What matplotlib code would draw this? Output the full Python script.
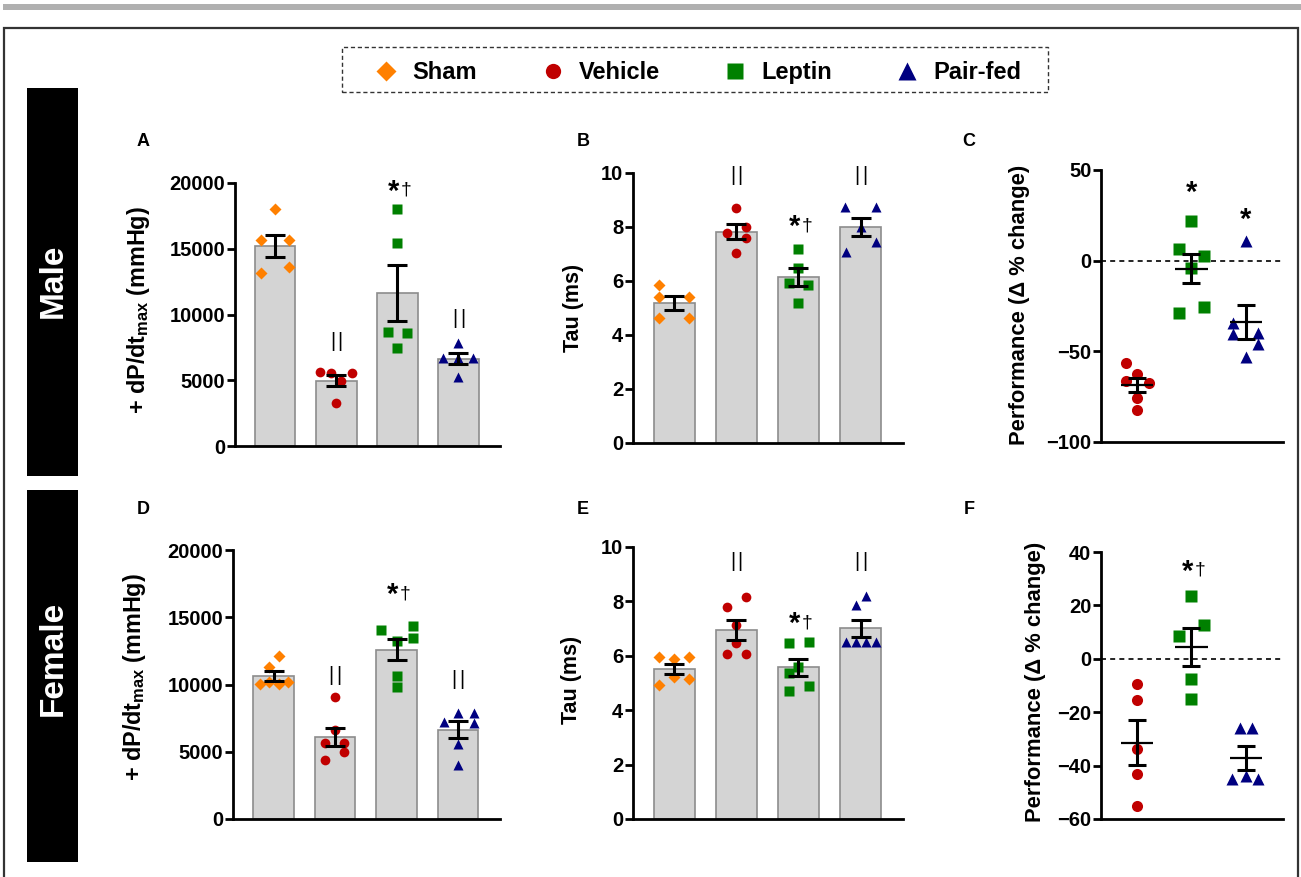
import numpy as np
import matplotlib
matplotlib.use("Agg")
import matplotlib.pyplot as plt
from matplotlib.patches import Rectangle
from matplotlib.lines import Line2D

plt.rcParams['font.family'] = ['Liberation Sans', 'DejaVu Sans']
plt.rcParams['font.weight'] = 'bold'
plt.rcParams['mathtext.fontset'] = 'custom'
plt.rcParams['mathtext.bf'] = 'Liberation Sans:bold'
plt.rcParams['mathtext.rm'] = 'Liberation Sans:bold'

# ---------------- data ----------------
groups = ['Sham', 'Vehicle', 'Leptin', 'Pair-fed']

# Male +dP/dtmax (mmHg)
male_dpdt_sham = [18000, 15650, 15650, 13150, 13650]
male_dpdt_vehicle = [5600, 5550, 5550, 4950, 3250]
male_dpdt_leptin = [18050, 15450, 8650, 8600, 7450]
male_dpdt_pairfed = [7850, 6700, 6700, 6700, 5250]

# Male Tau (ms)
male_tau_sham = [5.87, 5.42, 5.42, 4.62, 4.62]
male_tau_vehicle = [8.71, 8.0, 7.78, 7.6, 7.02]
male_tau_leptin = [7.2, 6.5, 5.91, 5.87, 5.2]
male_tau_pairfed = [8.74, 8.74, 8.0, 7.45, 7.08]

# Male performance (delta % change)
male_perf_vehicle = [-56.4, -62.3, -66.3, -67.4, -75.5, -82.5]
male_perf_leptin = [22.0, 6.7, 2.7, -3.9, -25.5, -28.8]
male_perf_pairfed = [10.8, -34.3, -40.6, -39.8, -46.1, -53.1]

# Female +dP/dtmax (mmHg)
female_dpdt_sham = [12120, 11330, 10010, 10160, 10010, 10160]
female_dpdt_vehicle = [9050, 6620, 5680, 5680, 5010, 4390]
female_dpdt_leptin = [14050, 14350, 13260, 13430, 10630, 9840]
female_dpdt_pairfed = [7240, 7910, 7910, 7110, 5580, 4020]

# Female Tau (ms)
female_tau_sham = [5.96, 5.9, 5.94, 5.23, 4.92, 5.13]
female_tau_vehicle = [7.8, 8.16, 7.15, 6.47, 6.06, 6.06]
female_tau_leptin = [6.47, 6.5, 5.59, 5.35, 4.9, 4.7]
female_tau_pairfed = [7.86, 8.19, 6.5, 6.5, 6.5, 6.5]

# Female performance (delta % change)
female_perf_vehicle = [-9.5, -15.6, -33.8, -43.3, -55.0]
female_perf_leptin = [23.6, 12.5, 8.6, -7.6, -15.1]
female_perf_pairfed = [-26.0, -26.0, -45.1, -43.9, -45.1]

# ---------------- point spread (horizontal scatter layout, category units) ----------------
sp_A = [[0, -0.23, 0.23, -0.23, 0.23], [-0.26, -0.09, 0.26, 0.08, 0],
        [0, 0, -0.16, 0.15, 0], [0, -0.25, 0, 0.24, 0]]
sp_B = [[-0.235, -0.235, 0.235, -0.235, 0.235], [0, 0.15, -0.155, 0.15, 0],
        [0, 0, -0.15, 0.145, 0], [-0.26, 0.24, 0, 0.24, -0.24]]
sp_C = [[-0.21, 0, -0.21, 0.23, 0, 0], [0, -0.23, 0.23, 0, 0.23, -0.23],
        [0, -0.23, -0.23, 0.23, 0.23, 0]]
sp_D = [[0.08, -0.08, -0.22, -0.08, 0.08, 0.23], [0, 0, -0.16, 0.15, 0.15, -0.16],
        [-0.26, 0.26, 0, 0.26, 0, 0], [-0.23, 0, 0.25, 0.25, 0, 0]]
sp_E = [[-0.235, 0, 0.245, 0, -0.235, 0.245], [-0.15, 0.16, 0, 0, -0.15, 0.16],
        [-0.16, 0.17, 0, -0.16, 0.17, -0.16], [-0.08, 0.08, -0.24, -0.08, 0.08, 0.24]]
sp_F = [[0, 0, 0, 0, 0], [0, 0.23, -0.235, 0, 0], [-0.105, 0.105, -0.25, 0, 0.22]]

# ---------------- style ----------------
colors = {'Sham': '#FF8000', 'Vehicle': '#C00000', 'Leptin': '#008000', 'Pair-fed': '#000080'}
marks = {'Sham': 'D', 'Vehicle': 'o', 'Leptin': 's', 'Pair-fed': '^'}
msz = {'Sham': 6.3, 'Vehicle': 7.0, 'Leptin': 7.0, 'Pair-fed': 7.6}

W, H = 1301, 877
fig = plt.figure(figsize=(W / 100, H / 100), dpi=100)


def px_axes(x0, x1, ytop, ybot):
    return fig.add_axes([x0 / W, 1 - ybot / H, (x1 - x0) / W, (ybot - ytop) / H])


def style(ax, ylim, yticks):
    for s in ('top', 'right'):
        ax.spines[s].set_visible(False)
    for s in ('left', 'bottom'):
        ax.spines[s].set_linewidth(2.0)
    ax.set_ylim(*ylim)
    ax.set_yticks(yticks)
    ax.set_xticks([])
    ax.tick_params(axis='y', length=6, width=2.0, labelsize=14.5, pad=1)
    ax.patch.set_alpha(0)


def bar_panel(ax, series, spread, cats):
    for i, (g, vals) in enumerate(zip(cats, series)):
        v = np.array(vals, float)
        m = v.mean()
        sem = v.std(ddof=1) / np.sqrt(len(v))
        ax.bar(i, m, 0.66, color='#D4D4D4', edgecolor='#8C8C8C', linewidth=1.2, zorder=1)
        ax.plot(i + np.array(spread[i]), v, ls='none', marker=marks[g], ms=msz[g],
                color=colors[g], mec='none', zorder=3, clip_on=False)
        ax.errorbar(i, m, yerr=sem, fmt='none', ecolor='black', elinewidth=2.2,
                    capsize=7, capthick=2.2, zorder=4)
    ax.set_xlim(-0.66, 3.68)


def dot_panel(ax, series, spread, cats):
    ax.axhline(0, color='black', lw=1.2, ls=(0, (3, 2.5)), zorder=0)
    for i, (g, vals) in enumerate(zip(cats, series)):
        v = np.array(vals, float)
        m = v.mean()
        sem = v.std(ddof=1) / np.sqrt(len(v))
        ax.plot(i + np.array(spread[i]), v, ls='none', marker=marks[g], ms=msz[g] + 1.0,
                color=colors[g], mec='none', zorder=3, clip_on=False)
        ax.hlines(m, i - 0.3, i + 0.3, color='black', lw=1.6, zorder=4)
        ax.errorbar(i, m, yerr=sem, fmt='none', ecolor='black', elinewidth=2.2,
                    capsize=6.5, capthick=2.2, zorder=4)
    ax.set_xlim(-0.66, 2.68)


def bars2(ax, x, y):
    for dx in (-2.8, 2.8):
        ax.annotate('|', (x, y), xytext=(dx, 0), textcoords='offset points',
                    ha='center', va='center', fontsize=14.5, fontweight='normal')


def sig(ax, x, y, dagger=True):
    if dagger:
        ax.annotate('*', (x, y), xytext=(1.5, -2.5), textcoords='offset points',
                    ha='right', va='center', fontsize=21, fontweight='bold')
        ax.annotate('\u2020', (x, y), xytext=(2.5, -1.5), textcoords='offset points',
                    ha='left', va='center', fontsize=14, fontweight='normal')
    else:
        ax.annotate('*', (x, y), xytext=(0, -2.5), textcoords='offset points',
                    ha='center', va='center', fontsize=21, fontweight='bold')


dpdt_label = r'+ dP/dt$_{\mathbf{max}}$ (mmHg)'
tau_label = 'Tau (ms)'
perf_label = 'Performance (\u0394 % change)'

# Panel A
axA = px_axes(235, 500, 183, 446)
style(axA, (0, 20000), [0, 5000, 10000, 15000, 20000])
bar_panel(axA, [male_dpdt_sham, male_dpdt_vehicle, male_dpdt_leptin, male_dpdt_pairfed], sp_A, groups)
bars2(axA, 1, 7944); bars2(axA, 3, 9720); sig(axA, 2, 19620)

# Panel B
axB = px_axes(633, 903, 173, 443)
style(axB, (0, 10), [0, 2, 4, 6, 8, 10])
bar_panel(axB, [male_tau_sham, male_tau_vehicle, male_tau_leptin, male_tau_pairfed], sp_B, groups)
bars2(axB, 1, 9.9); bars2(axB, 3, 9.9); sig(axB, 2, 8.13)

# Panel C
axC = px_axes(1101, 1283, 170, 442)
style(axC, (-100, 50), [-100, -50, 0, 50])
dot_panel(axC, [male_perf_vehicle, male_perf_leptin, male_perf_pairfed], sp_C, groups[1:])
sig(axC, 1, 39, dagger=False); sig(axC, 2, 24.2, dagger=False)

# Panel D
axD = px_axes(233, 500, 550, 819)
style(axD, (0, 20000), [0, 5000, 10000, 15000, 20000])
bar_panel(axD, [female_dpdt_sham, female_dpdt_vehicle, female_dpdt_leptin, female_dpdt_pairfed], sp_D, groups)
bars2(axD, 1, 10706); bars2(axD, 3, 10384); sig(axD, 2, 16902)

# Panel E
axE = px_axes(633, 903, 547, 819)
style(axE, (0, 10), [0, 2, 4, 6, 8, 10])
bar_panel(axE, [female_tau_sham, female_tau_vehicle, female_tau_leptin, female_tau_pairfed], sp_E, groups)
bars2(axE, 1, 9.45); bars2(axE, 3, 9.45); sig(axE, 2, 7.3)

# Panel F
axF = px_axes(1101, 1283, 552, 819)
style(axF, (-60, 40), [-60, -40, -20, 0, 20, 40])
dot_panel(axF, [female_perf_vehicle, female_perf_leptin, female_perf_pairfed], sp_F, groups[1:])
sig(axF, 1, 34)

# y labels
for (x, y, t, fs) in [(138, 310, dpdt_label, 16.8), (573, 308, tau_label, 15.5), (1020, 305, perf_label, 15.8),
                      (135, 677, dpdt_label, 16.8), (572, 680, tau_label, 15.5), (1035, 682, perf_label, 15.8)]:
    fig.text(x / W, 1 - y / H, t, rotation=90, ha='center', va='center', fontsize=fs, fontweight='bold')

# panel letters
for (x, y, t) in [(143, 141, 'A'), (583, 141, 'B'), (969, 141, 'C'),
                  (143, 510, 'D'), (583, 510, 'E'), (969, 510, 'F')]:
    fig.text(x / W, 1 - y / H, t, ha='center', va='center', fontsize=13, fontweight='bold')

# decorations: top gray rule, outer frame
fig.patches.append(Rectangle((3 / W, 1 - 9.5 / H), 1, 5.5 / H, transform=fig.transFigure,
                             facecolor='#B0B0B0', edgecolor='none', zorder=0))
fig.patches.append(Rectangle((3.5 / W, -0.02), (1298 - 3.5) / W, (877 - 28) / H + 0.02,
                             transform=fig.transFigure, fill=False, edgecolor='#333333', lw=1.6, zorder=0))

# sex side bars
fig.patches.append(Rectangle((27 / W, 1 - 476 / H), 51 / W, (476 - 88) / H, transform=fig.transFigure,
                             facecolor='black', edgecolor='none'))
fig.patches.append(Rectangle((27 / W, 1 - 862 / H), 51 / W, (862 - 490) / H, transform=fig.transFigure,
                             facecolor='black', edgecolor='none'))
fig.text(53 / W, 1 - 281 / H, 'Male', rotation=90, color='white', ha='center', va='center',
         fontsize=24, fontweight='bold')
fig.text(53 / W, 1 - 658 / H, 'Female', rotation=90, color='white', ha='center', va='center',
         fontsize=24, fontweight='bold')

# legend
handles = [Line2D([], [], ls='none', marker=marks[g], color=colors[g], mec='none',
                  ms={'Sham': 10, 'Vehicle': 11, 'Leptin': 11, 'Pair-fed': 12.5}[g]) for g in groups]
fig.legend(handles, groups, loc='center', bbox_to_anchor=(698 / W, 1 - 72.5 / H), ncol=4,
           frameon=False, handlelength=1.0, handletextpad=0.6, columnspacing=2.7,
           prop={'weight': 'bold', 'size': 17})
fig.patches.append(Rectangle((342 / W, 1 - 92 / H), (1048 - 342) / W, 45 / H, transform=fig.transFigure,
                             fill=False, edgecolor='#333333', lw=1.0, ls=(0, (3, 2))))

fig.savefig('out.png', dpi=100)
